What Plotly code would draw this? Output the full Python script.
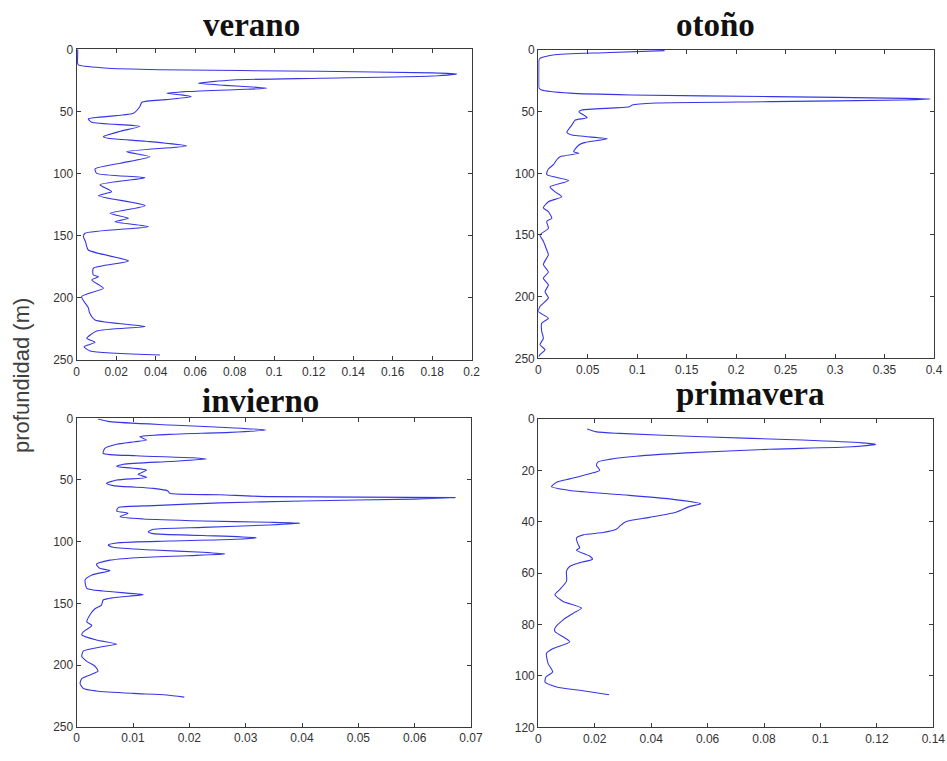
import plotly.graph_objects as go

# ---------------- data ----------------
verano_depth = [0, 5, 10, 12.6, 15, 16.4, 17.7, 19, 19.8, 21.5, 23.3, 24.7, 27.4, 29, 30.6, 31.4, 32.2, 34,
                35.4, 36.7, 38.2, 40.5, 42.6, 46, 51.5, 56, 58.7, 62, 66, 70.3, 71.6, 74, 77.8, 82.4, 86.4,
                91.7, 96.3, 99.8, 103.3, 109, 114.5, 117.8, 125.8, 132, 136, 138.7, 142.7, 148, 150.8, 155,
                161.5, 170.3, 176.2, 181.6, 183, 185.6, 192.3, 199, 208, 212, 217.8, 223, 226.7, 232.6,
                235.8, 239.3, 242.8, 246]
verano_val = [0.0005, 0.0005, 0.0004, 0.0008, 0.014, 0.042, 0.123, 0.180, 0.1924, 0.180, 0.123, 0.079,
              0.0616, 0.075, 0.091, 0.0962, 0.085, 0.056, 0.0456, 0.053, 0.058, 0.045, 0.033, 0.032, 0.0287,
              0.0059, 0.0076, 0.032, 0.022, 0.0135, 0.016, 0.035, 0.0557, 0.0253, 0.037, 0.022, 0.0093,
              0.0101, 0.0346, 0.0118, 0.0177, 0.011, 0.0346, 0.0169, 0.0262, 0.0194, 0.0363, 0.0042,
              0.0034, 0.0045, 0.0059, 0.0262, 0.0084, 0.0084, 0.011, 0.0076, 0.0135, 0.0025, 0.0059,
              0.0065, 0.0093, 0.0346, 0.0101, 0.0051, 0.0093, 0.0037, 0.0068, 0.0422]

otono_depth = [0.5, 2.2, 4, 6.8, 8, 15, 25, 31, 32.4, 35, 36.5, 37.8, 39.2, 39.7, 40.5, 41.9, 43, 44.6, 46,
               48.6, 50, 54.9, 56.8, 60.8, 66.8, 69, 72, 74.9, 77, 82.4, 83.8, 86.5, 89, 93, 96.5, 101, 106,
               111, 115, 119, 123, 128, 131, 136.5, 139, 144.6, 150, 155, 162, 166, 174, 180, 185, 190.5,
               196, 201, 208, 212, 217.6, 221.6, 228, 233.8, 239, 243, 247, 248.6]
otono_val = [0.1276, 0.066, 0.015, 0.0017, 0.0007, 0.0005, 0.0005, 0.0008, 0.0034, 0.032, 0.0935, 0.236,
             0.372, 0.396, 0.37, 0.236, 0.119, 0.095, 0.092, 0.044, 0.041, 0.0493, 0.0374, 0.034, 0.0289,
             0.034, 0.0697, 0.0476, 0.041, 0.0357, 0.041, 0.022, 0.0187, 0.0153, 0.0102, 0.0085, 0.0306,
             0.0119, 0.017, 0.0238, 0.0102, 0.0051, 0.0102, 0.0136, 0.0085, 0.0102, 0.0017, 0.0051, 0.0085,
             0.0102, 0.0051, 0.0102, 0.0051, 0.0102, 0.0068, 0.0102, 0.0017, 0.0, 0.0102, 0.0034, 0.0034,
             0.0051, 0.0017, 0.0068, 0.0017, 0.0005]

invierno_depth = [0.5, 2.7, 5.4, 7.6, 9.5, 11.4, 13, 14.9, 17.6, 19, 21, 24.3, 28.4, 30.3, 32, 33, 35, 37.3,
                  39, 42, 45.4, 48, 50, 52.7, 54.6, 56.8, 58.9, 60.8, 62, 63.5, 64.3, 65.5, 67, 68.6, 70.8,
                  72.4, 75.1, 77, 79.7, 81.6, 83.2, 84.3, 85.1, 86.5, 88.4, 90, 91.9, 93.5, 95, 96.8, 98,
                  99.5, 100.8, 102.7, 104.6, 106.8, 108.6, 110, 111.4, 113, 115, 118.4, 121.6, 123.5, 127,
                  131, 137.8, 140, 141.9, 143, 145.4, 147.3, 151.4, 154.6, 159, 165, 168, 173, 175.7, 179.7,
                  183, 185, 188.6, 193, 197, 200.8, 205, 208, 211, 215, 219, 221, 223, 224.3, 226]
invierno_val = [0.0038, 0.0059, 0.0165, 0.0272, 0.0336, 0.0272, 0.0165, 0.0112, 0.0124, 0.0103, 0.0071,
                0.005, 0.0047, 0.0106, 0.0207, 0.023, 0.0165, 0.0083, 0.0071, 0.0124, 0.0109, 0.0124,
                0.0071, 0.0053, 0.0065, 0.0136, 0.0162, 0.0165, 0.0254, 0.0342, 0.0672, 0.060, 0.0401,
                0.0254, 0.0136, 0.0074, 0.0071, 0.0091, 0.0077, 0.0118, 0.0224, 0.0342, 0.0396, 0.0342,
                0.0224, 0.0136, 0.0127, 0.0136, 0.0224, 0.0319, 0.0283, 0.0165, 0.0077, 0.0056, 0.0065,
                0.0136, 0.0224, 0.0263, 0.0195, 0.0106, 0.0059, 0.0035, 0.0041, 0.0059, 0.0027, 0.0015,
                0.0018, 0.0047, 0.0094, 0.0118, 0.0065, 0.0047, 0.0044, 0.0032, 0.0024, 0.0018, 0.0027,
                0.0012, 0.0009, 0.0035, 0.0071, 0.0047, 0.0012, 0.0009, 0.0018, 0.0032, 0.0038, 0.0024,
                0.0009, 0.0006, 0.0012, 0.0035, 0.01, 0.0159, 0.0191]

primavera_depth = [3.9, 5, 5.6, 6.9, 8.2, 9.3, 9.9, 10.8, 11.8, 13.2, 14.5, 15.7, 16.7, 18, 20, 21.3, 23.3,
                   24.6, 26.3, 27.8, 29.4, 31.1, 33, 34.1, 36.3, 38.3, 39.9, 41.2, 42.9, 44.2, 45.1, 46.4,
                   48.8, 50.1, 51.1, 53.3, 54.6, 55.9, 57.3, 59.2, 63.1, 66.4, 68.4, 71, 73.6, 75.6, 78.2,
                   81.4, 82.7, 86.7, 89.3, 91.2, 95.2, 98.4, 100.4, 102.4, 104.3, 105.6, 107.3]
primavera_val = [0.0173, 0.0206, 0.0288, 0.0582, 0.0935, 0.1147, 0.1196, 0.1112, 0.0818, 0.0524, 0.0347,
                 0.0253, 0.0212, 0.0206, 0.0218, 0.0182, 0.0112, 0.0065, 0.0047, 0.0112, 0.0288, 0.0465,
                 0.0576, 0.0535, 0.0488, 0.0394, 0.0312, 0.0294, 0.0276, 0.0229, 0.0159, 0.0135, 0.0141,
                 0.0147, 0.0135, 0.0182, 0.0192, 0.0147, 0.0112, 0.01, 0.01, 0.0076, 0.0059, 0.0088, 0.0153,
                 0.0124, 0.0088, 0.0059, 0.0059, 0.0112, 0.0053, 0.0029, 0.0035, 0.0051, 0.0027, 0.0024,
                 0.0065, 0.0147, 0.0251]

titles = ["verano", "otoño", "invierno", "primavera"]
y_label = "profundidad (m)"

x_ranges = [[0, 0.2], [0, 0.4], [0, 0.07], [0, 0.14]]
x_dticks = [0.02, 0.05, 0.01, 0.02]
y_ranges = [[250, 0], [250, 0], [250, 0], [120, 0]]
y_dticks = [50, 50, 50, 20]

series = [(verano_val, verano_depth), (otono_val, otono_depth),
          (invierno_val, invierno_depth), (primavera_val, primavera_depth)]

# ---------------- figure ----------------
W, H = 947, 761
# plot boxes in pixels (left, right, top, bottom)
boxes = [(76.7, 471.7, 49.3, 360.0), (538.3, 934.0, 50.0, 358.3),
         (76.7, 471.0, 418.3, 726.7), (538.3, 933.3, 419.0, 727.3)]
title_pos = [(251, 25), (715, 25), (260, 401), (750, 394)]


def px(x):
    return x / W


def py(y):
    return 1 - y / H


fig = go.Figure()
line_color = "#3636e6"
axis_color = "#3a3a3a"
tick_font = dict(family="Liberation Sans, Arial, sans-serif", size=12, color="#333333")

for i, ((xv, yv), (l, r, t, b)) in enumerate(zip(series, boxes)):
    n = "" if i == 0 else str(i + 1)
    fig.add_trace(go.Scatter(x=xv, y=yv, mode="lines", xaxis="x" + n, yaxis="y" + n,
                             line=dict(color=line_color, width=1.1, shape="spline", smoothing=0.6),
                             showlegend=False, hoverinfo="skip"))
    common = dict(showline=True, linecolor=axis_color, linewidth=1.2, mirror="ticks",
                  ticks="inside", ticklen=4, tickcolor=axis_color, tickwidth=1,
                  showgrid=False, zeroline=False, tickfont=tick_font, automargin=False)
    fig.layout["xaxis" + n] = dict(domain=[px(l), px(r)], anchor="y" + n,
                                   range=x_ranges[i], dtick=x_dticks[i], tick0=0, **common)
    fig.layout["yaxis" + n] = dict(domain=[py(b), py(t)], anchor="x" + n,
                                   range=y_ranges[i], dtick=y_dticks[i], tick0=0, **common)
    tx, ty = title_pos[i]
    fig.add_annotation(text="<b>%s</b>" % titles[i], x=px(tx), y=py(ty), xref="paper",
                       yref="paper", showarrow=False, xanchor="center", yanchor="middle",
                       font=dict(family="Liberation Serif, Times New Roman, serif", size=33,
                                 color="#111111"))

fig.add_annotation(text=y_label, x=px(21), y=py(376), xref="paper", yref="paper",
                   showarrow=False, textangle=-90, xanchor="center", yanchor="middle",
                   font=dict(family="Liberation Sans, Arial, sans-serif", size=22, color="#404040"))

fig.update_layout(width=W, height=H, margin=dict(l=0, r=0, t=0, b=0, autoexpand=False),
                  paper_bgcolor="white", plot_bgcolor="white")

# pin the graph to the top-left corner of the window so the page does not overflow
post = ("document.body.style.margin='0';"
        "document.documentElement.style.overflow='hidden';"
        "var d=document.getElementById('{plot_id}');"
        "d.style.position='fixed';d.style.left='0px';d.style.top='0px';")

fig.write_html("out.html", post_script=post, config={"displayModeBar": False})
